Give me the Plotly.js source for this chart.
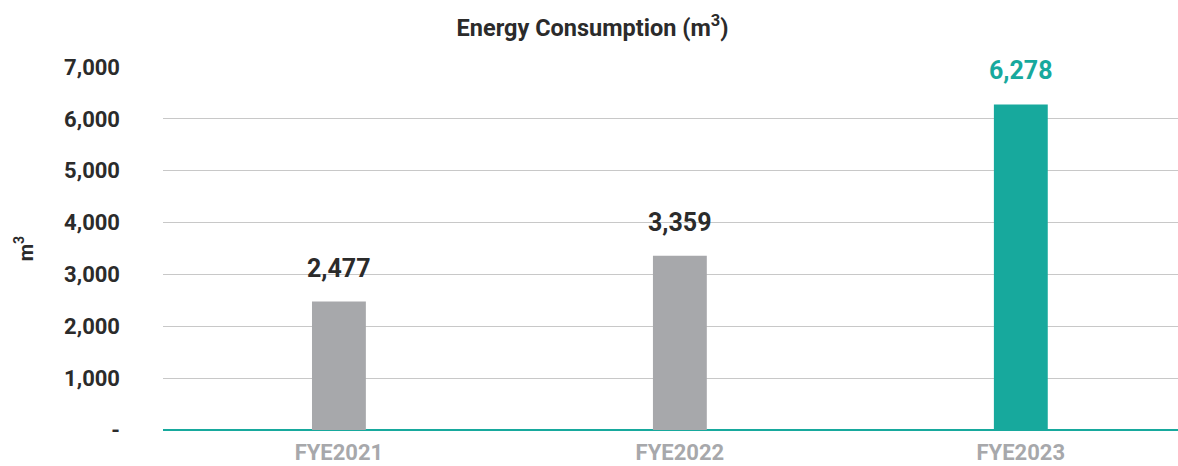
<!DOCTYPE html>
<html><head><meta charset="utf-8">
<script src="https://cdn.plot.ly/plotly-3.0.1.min.js"></script>
<style>html,body{margin:0;padding:0;background:#fff;}#c{width:1178px;height:466px;}</style>
</head><body><div id="c"></div>
<script>
const categories = ["FYE2021", "FYE2022", "FYE2023"];
const values = [2477, 3359, 6278];
const labels = ["2,477", "3,359", "6,278"];
const barColors = ["#a7a8ab", "#a7a8ab", "#17a99d"];
const labelColors = ["#2b2b2b", "#2b2b2b", "#17a99d"];
const tickVals = [0, 1000, 2000, 3000, 4000, 5000, 6000, 7000];
const tickText = ["-", "1,000", "2,000", "3,000", "4,000", "5,000", "6,000", "7,000"];

const font = "Roboto, 'DejaVu Sans', sans-serif";
const xs = categories.map((c, i) => i);

const trace = {
  type: "bar", x: xs, y: values, width: 0.158,
  marker: {color: barColors}, hoverinfo: "none"
};
const annotations = xs.map((x, i) => ({
  x: x, y: values[i], xref: "x", yref: "y", text: "<b>" + labels[i] + "</b>",
  showarrow: false, yanchor: "bottom", yshift: 17,
  font: {family: font, size: 25, color: labelColors[i]}
}));
annotations.push({
  xref: "paper", yref: "paper", x: -0.152, y: 0.5, text: "<b>m<sup>3</sup></b>",
  showarrow: false, textangle: -90, font: {family: font, size: 20, color: "#2b2b2b"}
});

const layout = {
  width: 1178, height: 466,
  margin: {l: 163, r: 0, t: 67, b: 36},
  paper_bgcolor: "#fff", plot_bgcolor: "#fff",
  title: {text: "<b>Energy Consumption (m<sup>3</sup>)</b>", x: 0.503, xref: "container", xanchor: "center",
          y: 0.94, yanchor: "middle",
          font: {family: font, size: 23.5, color: "#2b2b2b", weight: 700}},
  showlegend: false,
  xaxis: {range: [-0.516, 2.461], tickvals: xs, ticktext: categories.map(c => "<b>" + c + "</b>"), showgrid: false,
          zeroline: false, showline: false, ticks: "", ticklabelstandoff: 7,
          tickfont: {family: font, size: 22, color: "#a7a8ab"}},
  yaxis: {range: [0, 7000], tickvals: tickVals, ticktext: tickText.map(t => "<b>" + t + "</b>"), showgrid: true,
          gridcolor: "#c8c8c8", gridwidth: 1, zeroline: true, zerolinecolor: "#17a99d", zerolinewidth: 2,
          showline: false, ticks: "", ticklabelstandoff: 42,
          tickfont: {family: font, size: 22, color: "#2b2b2b"}},
  annotations: annotations
};
Plotly.newPlot("c", [trace], layout, {displayModeBar: false, staticPlot: true});
</script></body></html>
